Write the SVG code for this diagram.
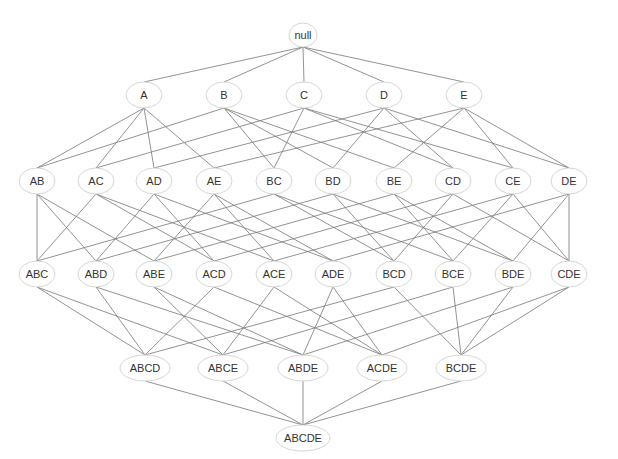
<svg xmlns="http://www.w3.org/2000/svg" width="618" height="459" viewBox="0 0 618 459">
<style>
  .n ellipse { fill: #ffffff; stroke: #d6d6d6; stroke-width: 1; }
  .n text { font-family: "Liberation Sans", Arial, sans-serif; font-size: 11px; fill: #333333; text-anchor: middle; }
  #edges line { stroke: #777777; stroke-width: 0.8; }
</style>
<rect width="618" height="459" fill="#ffffff"/>
<g id="edges">
  <line x1="303" y1="47" x2="144" y2="82"/>
  <line x1="303" y1="47" x2="224" y2="82"/>
  <line x1="303" y1="47" x2="304" y2="82"/>
  <line x1="303" y1="47" x2="384" y2="82"/>
  <line x1="303" y1="47" x2="464" y2="82"/>

  <line x1="144" y1="108" x2="37" y2="168"/>
  <line x1="144" y1="108" x2="96" y2="168"/>
  <line x1="144" y1="108" x2="154" y2="168"/>
  <line x1="144" y1="108" x2="214" y2="168"/>
  <line x1="224" y1="108" x2="37" y2="168"/>
  <line x1="224" y1="108" x2="274" y2="168"/>
  <line x1="224" y1="108" x2="333" y2="168"/>
  <line x1="224" y1="108" x2="394" y2="168"/>
  <line x1="304" y1="108" x2="96" y2="168"/>
  <line x1="304" y1="108" x2="274" y2="168"/>
  <line x1="304" y1="108" x2="453" y2="168"/>
  <line x1="304" y1="108" x2="513" y2="168"/>
  <line x1="384" y1="108" x2="154" y2="168"/>
  <line x1="384" y1="108" x2="333" y2="168"/>
  <line x1="384" y1="108" x2="453" y2="168"/>
  <line x1="384" y1="108" x2="569" y2="168"/>
  <line x1="464" y1="108" x2="214" y2="168"/>
  <line x1="464" y1="108" x2="394" y2="168"/>
  <line x1="464" y1="108" x2="513" y2="168"/>
  <line x1="464" y1="108" x2="569" y2="168"/>

  <line x1="37" y1="194" x2="37" y2="261"/>
  <line x1="37" y1="194" x2="96" y2="261"/>
  <line x1="37" y1="194" x2="154" y2="261"/>
  <line x1="96" y1="194" x2="37" y2="261"/>
  <line x1="96" y1="194" x2="214" y2="261"/>
  <line x1="96" y1="194" x2="274" y2="261"/>
  <line x1="154" y1="194" x2="96" y2="261"/>
  <line x1="154" y1="194" x2="214" y2="261"/>
  <line x1="154" y1="194" x2="333" y2="261"/>
  <line x1="214" y1="194" x2="154" y2="261"/>
  <line x1="214" y1="194" x2="274" y2="261"/>
  <line x1="214" y1="194" x2="333" y2="261"/>
  <line x1="274" y1="194" x2="37" y2="261"/>
  <line x1="274" y1="194" x2="394" y2="261"/>
  <line x1="274" y1="194" x2="453" y2="261"/>
  <line x1="333" y1="194" x2="96" y2="261"/>
  <line x1="333" y1="194" x2="394" y2="261"/>
  <line x1="333" y1="194" x2="513" y2="261"/>
  <line x1="394" y1="194" x2="154" y2="261"/>
  <line x1="394" y1="194" x2="453" y2="261"/>
  <line x1="394" y1="194" x2="513" y2="261"/>
  <line x1="453" y1="194" x2="214" y2="261"/>
  <line x1="453" y1="194" x2="394" y2="261"/>
  <line x1="453" y1="194" x2="569" y2="261"/>
  <line x1="513" y1="194" x2="274" y2="261"/>
  <line x1="513" y1="194" x2="453" y2="261"/>
  <line x1="513" y1="194" x2="569" y2="261"/>
  <line x1="569" y1="194" x2="333" y2="261"/>
  <line x1="569" y1="194" x2="513" y2="261"/>
  <line x1="569" y1="194" x2="569" y2="261"/>

  <line x1="37" y1="287" x2="145" y2="355"/>
  <line x1="37" y1="287" x2="223" y2="355"/>
  <line x1="96" y1="287" x2="145" y2="355"/>
  <line x1="96" y1="287" x2="303" y2="355"/>
  <line x1="154" y1="287" x2="223" y2="355"/>
  <line x1="154" y1="287" x2="303" y2="355"/>
  <line x1="214" y1="287" x2="145" y2="355"/>
  <line x1="214" y1="287" x2="382" y2="355"/>
  <line x1="274" y1="287" x2="223" y2="355"/>
  <line x1="274" y1="287" x2="382" y2="355"/>
  <line x1="333" y1="287" x2="303" y2="355"/>
  <line x1="333" y1="287" x2="382" y2="355"/>
  <line x1="394" y1="287" x2="145" y2="355"/>
  <line x1="394" y1="287" x2="461" y2="355"/>
  <line x1="453" y1="287" x2="223" y2="355"/>
  <line x1="453" y1="287" x2="461" y2="355"/>
  <line x1="513" y1="287" x2="303" y2="355"/>
  <line x1="513" y1="287" x2="461" y2="355"/>
  <line x1="569" y1="287" x2="382" y2="355"/>
  <line x1="569" y1="287" x2="461" y2="355"/>

  <line x1="145" y1="381" x2="303" y2="425"/>
  <line x1="223" y1="381" x2="303" y2="425"/>
  <line x1="303" y1="381" x2="303" y2="425"/>
  <line x1="382" y1="381" x2="303" y2="425"/>
  <line x1="461" y1="381" x2="303" y2="425"/>
</g>

<g id="node-null" class="n"><ellipse cx="303" cy="35" rx="14" ry="12"/><text x="303" y="39">null</text></g>

<g id="node-A" class="n"><ellipse cx="144" cy="95" rx="18" ry="13"/><text x="144" y="99">A</text></g>
<g id="node-B" class="n"><ellipse cx="224" cy="95" rx="18" ry="13"/><text x="224" y="99">B</text></g>
<g id="node-C" class="n"><ellipse cx="304" cy="95" rx="18" ry="13"/><text x="304" y="99">C</text></g>
<g id="node-D" class="n"><ellipse cx="384" cy="95" rx="18" ry="13"/><text x="384" y="99">D</text></g>
<g id="node-E" class="n"><ellipse cx="464" cy="95" rx="18" ry="13"/><text x="464" y="99">E</text></g>

<g id="node-AB" class="n"><ellipse cx="37" cy="181" rx="18" ry="13"/><text x="37" y="185">AB</text></g>
<g id="node-AC" class="n"><ellipse cx="96" cy="181" rx="18" ry="13"/><text x="96" y="185">AC</text></g>
<g id="node-AD" class="n"><ellipse cx="154" cy="181" rx="18" ry="13"/><text x="154" y="185">AD</text></g>
<g id="node-AE" class="n"><ellipse cx="214" cy="181" rx="18" ry="13"/><text x="214" y="185">AE</text></g>
<g id="node-BC" class="n"><ellipse cx="274" cy="181" rx="18" ry="13"/><text x="274" y="185">BC</text></g>
<g id="node-BD" class="n"><ellipse cx="333" cy="181" rx="18" ry="13"/><text x="333" y="185">BD</text></g>
<g id="node-BE" class="n"><ellipse cx="394" cy="181" rx="18" ry="13"/><text x="394" y="185">BE</text></g>
<g id="node-CD" class="n"><ellipse cx="453" cy="181" rx="18" ry="13"/><text x="453" y="185">CD</text></g>
<g id="node-CE" class="n"><ellipse cx="513" cy="181" rx="18" ry="13"/><text x="513" y="185">CE</text></g>
<g id="node-DE" class="n"><ellipse cx="569" cy="181" rx="18" ry="13"/><text x="569" y="185">DE</text></g>

<g id="node-ABC" class="n"><ellipse cx="37" cy="274" rx="18" ry="13"/><text x="37" y="278">ABC</text></g>
<g id="node-ABD" class="n"><ellipse cx="96" cy="274" rx="18" ry="13"/><text x="96" y="278">ABD</text></g>
<g id="node-ABE" class="n"><ellipse cx="154" cy="274" rx="18" ry="13"/><text x="154" y="278">ABE</text></g>
<g id="node-ACD" class="n"><ellipse cx="214" cy="274" rx="18" ry="13"/><text x="214" y="278">ACD</text></g>
<g id="node-ACE" class="n"><ellipse cx="274" cy="274" rx="18" ry="13"/><text x="274" y="278">ACE</text></g>
<g id="node-ADE" class="n"><ellipse cx="333" cy="274" rx="18" ry="13"/><text x="333" y="278">ADE</text></g>
<g id="node-BCD" class="n"><ellipse cx="394" cy="274" rx="18" ry="13"/><text x="394" y="278">BCD</text></g>
<g id="node-BCE" class="n"><ellipse cx="453" cy="274" rx="18" ry="13"/><text x="453" y="278">BCE</text></g>
<g id="node-BDE" class="n"><ellipse cx="513" cy="274" rx="18" ry="13"/><text x="513" y="278">BDE</text></g>
<g id="node-CDE" class="n"><ellipse cx="569" cy="274" rx="18" ry="13"/><text x="569" y="278">CDE</text></g>

<g id="node-ABCD" class="n"><ellipse cx="145" cy="368" rx="25" ry="13"/><text x="145" y="372">ABCD</text></g>
<g id="node-ABCE" class="n"><ellipse cx="223" cy="368" rx="25" ry="13"/><text x="223" y="372">ABCE</text></g>
<g id="node-ABDE" class="n"><ellipse cx="303" cy="368" rx="25" ry="13"/><text x="303" y="372">ABDE</text></g>
<g id="node-ACDE" class="n"><ellipse cx="382" cy="368" rx="25" ry="13"/><text x="382" y="372">ACDE</text></g>
<g id="node-BCDE" class="n"><ellipse cx="461" cy="368" rx="25" ry="13"/><text x="461" y="372">BCDE</text></g>

<g id="node-ABCDE" class="n"><ellipse cx="303" cy="438" rx="27" ry="13"/><text x="303" y="442">ABCDE</text></g>
</svg>
